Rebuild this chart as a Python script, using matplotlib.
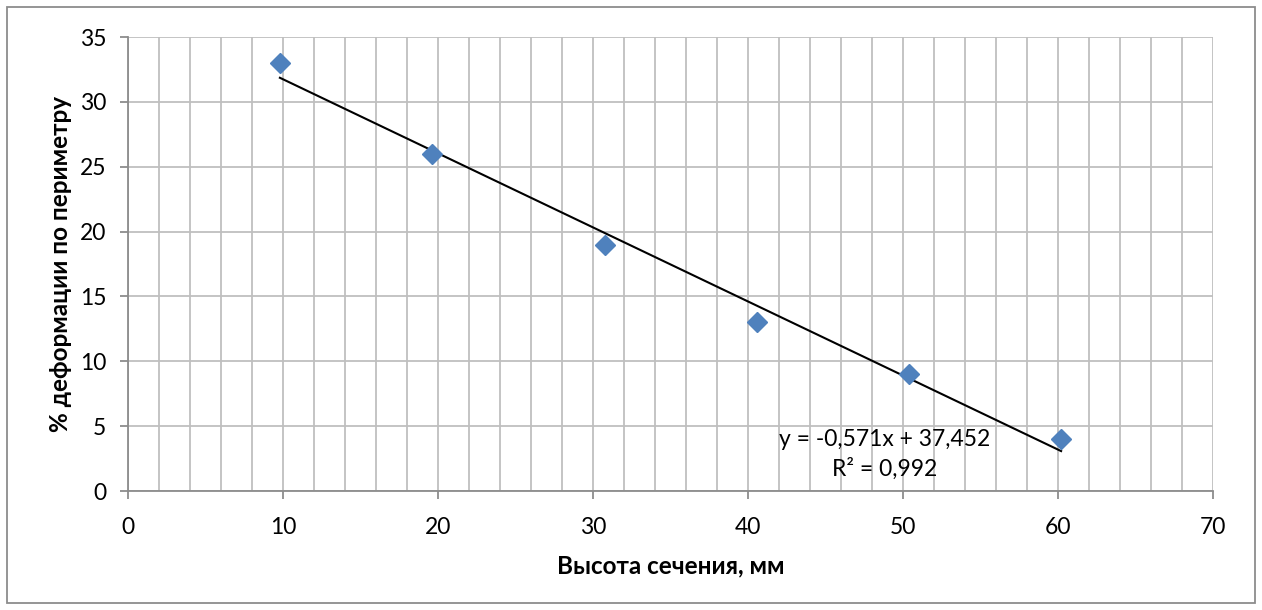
import matplotlib
matplotlib.use("Agg")
import matplotlib.pyplot as plt
from matplotlib.patches import Rectangle
from matplotlib.ticker import MultipleLocator

# Data
height_mm = [9.8, 19.6, 30.8, 40.6, 50.4, 60.2]
deform_pct = [33, 26, 19, 13, 9, 4]
slope = -0.571
intercept = 37.452
eq_text = "y = -0,571x + 37,452"
r2_text = "R² = 0,992"
x_label = "Высота сечения, мм"
y_label = "% деформации по периметру"

plt.rcParams['font.family'] = ['Lato', 'DejaVu Sans']

fig = plt.figure(figsize=(12.62, 6.10), dpi=100)
ax = fig.add_axes([128/1262, 1-491/610, (1213-128)/1262, (491-37)/610])

grid_c = '#BFBFBF'
axis_c = '#8C8C8C'

ax.set_xlim(0, 70)
ax.set_ylim(0, 35)
ax.xaxis.set_major_locator(MultipleLocator(10))
ax.xaxis.set_minor_locator(MultipleLocator(2))
ax.yaxis.set_major_locator(MultipleLocator(5))
ax.grid(True, which='major', axis='y', color=grid_c, lw=1.3)
ax.grid(True, which='both', axis='x', color=grid_c, lw=1.3)
ax.set_axisbelow(True)

for s in ['top', 'right']:
    ax.spines[s].set_visible(False)
for s in ['left', 'bottom']:
    ax.spines[s].set_color(axis_c)
    ax.spines[s].set_linewidth(1.3)

ax.tick_params(axis='both', which='major', direction='out', length=5.5, width=1.3,
               color=axis_c, labelsize=16.5, labelcolor='black')
ax.tick_params(axis='x', which='major', pad=13)
ax.tick_params(axis='y', which='major', pad=10)
ax.tick_params(axis='x', which='minor', length=0)

# trend line
xs = [min(height_mm), max(height_mm)]
ys = [slope * x + intercept for x in xs]
ax.plot(xs, ys, color='black', lw=1.5, zorder=3)

ax.plot(height_mm, deform_pct, linestyle='none', marker='D', markersize=10.5,
        color='#4F81BD', markeredgecolor='#4F81BD', zorder=4)

ax.text(48.8, 4.0, eq_text, fontsize=16.5, ha='center', va='center', zorder=5)
ax.text(48.8, 1.7, r2_text, fontsize=16.5, ha='center', va='center', zorder=5)

ax.set_xlabel(x_label, fontsize=17.5, fontweight='bold', labelpad=12)
ax.set_ylabel(y_label, fontsize=17.5, fontweight='bold', labelpad=6)

# outer chart border
fig.patches.append(Rectangle((7/1262, 7/610), 1 - 14/1262, 1 - 14/610,
                             transform=fig.transFigure, fill=False,
                             edgecolor='#8C8C8C', lw=1.3))

fig.savefig('out.png', dpi=100)
